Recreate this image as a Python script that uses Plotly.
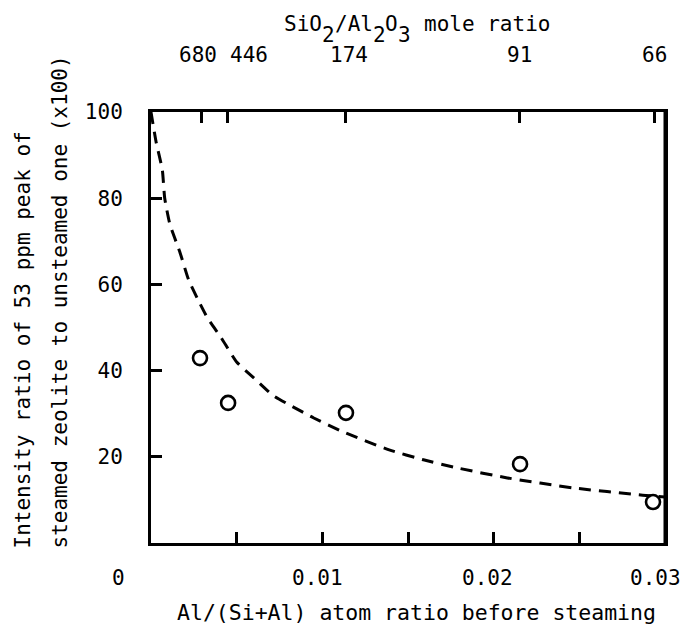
import plotly.graph_objects as go

# Measured points
al_ratio = [0.00286, 0.0045, 0.01138, 0.02154, 0.0293]
intensity = [42.9, 32.5, 30.2, 18.3, 9.5]

# Dashed trend curve
curve_x = [0.0, 0.0003, 0.00066, 0.0008, 0.0011, 0.0017, 0.0022, 0.0027, 0.0033,
           0.0041, 0.005, 0.006, 0.0071, 0.0081, 0.0095, 0.0112, 0.0139, 0.0159,
           0.0179, 0.0208, 0.0246, 0.0287, 0.030]
curve_y = [100, 93, 86.6, 80, 74, 67.3, 61, 56.8, 52.2,
           47.6, 42, 38.3, 34.3, 32, 29, 25.8, 21.6, 19.3,
           17.4, 15.1, 12.8, 11.1, 10.7]

# Bottom axis ticks and labels
bottom_ticks = [0.005, 0.01, 0.015, 0.02, 0.025, 0.03]
bottom_label_vals = [0, 0.01, 0.02, 0.03]
bottom_label_text = ["0", "0.01", "0.02", "0.03"]

# Left axis ticks
y_ticks = [20, 40, 60, 80, 100]

# Top axis: SiO2/Al2O3 mole ratio
top_labels = ["680", "446", "174", "91", "66"]
top_pos = [0.00293, 0.00446, 0.01136, 0.0215, 0.0294]

FONT = "DejaVu Sans Mono"
FS = 21
ADV = 0.602 * FS  # monospace advance width

fig = go.Figure()
fig.add_trace(go.Scatter(
    x=curve_x, y=curve_y, mode="lines", line_shape="spline",
    line=dict(color="black", width=3, dash="12px,8px", smoothing=0.5),
    showlegend=False, hoverinfo="skip"))
fig.add_trace(go.Scatter(
    x=al_ratio, y=intensity, mode="markers",
    marker=dict(symbol="circle-open", size=14, color="black",
                line=dict(color="black", width=2.6)),
    showlegend=False))
# invisible trace for top axis
fig.add_trace(go.Scatter(x=[0, 0.03], y=[0, 0], xaxis="x2", mode="markers",
                         marker=dict(opacity=0), showlegend=False, hoverinfo="skip"))

fig.update_layout(
    width=681, height=627,
    margin=dict(l=151, r=16, t=112, b=84),
    paper_bgcolor="white", plot_bgcolor="white",
    font=dict(family=FONT, size=FS, color="black"),
    xaxis=dict(range=[0, 0.03], tickvals=bottom_ticks, showticklabels=False,
               ticks="inside", ticklen=11, tickwidth=3, tickcolor="black",
               showline=True, linewidth=3, linecolor="black", mirror=False,
               showgrid=False, zeroline=False),
    xaxis2=dict(range=[0, 0.03], overlaying="x", side="top",
                tickvals=top_pos, showticklabels=False,
                ticks="inside", ticklen=11, tickwidth=3, tickcolor="black",
                showline=True, linewidth=3, linecolor="black",
                showgrid=False, zeroline=False),
    yaxis=dict(range=[0, 100], tickvals=y_ticks,
               ticks="inside", ticklen=11, tickwidth=3, tickcolor="black",
               showline=True, linewidth=3, linecolor="black", mirror=True,
               showgrid=False, zeroline=False, ticklabelstandoff=21),
)

# right frame line
fig.add_shape(type="line", xref="paper", yref="paper", x0=1, x1=1, y0=0, y1=1,
              line=dict(color="black", width=3))

# Bottom tick labels
bottom_shift = [-33, -5, -6, -10]
for val, txt, sh in zip(bottom_label_vals, bottom_label_text, bottom_shift):
    fig.add_annotation(x=val, y=0, xref="x", yref="paper", text=txt,
                       showarrow=False, yanchor="middle", yshift=-35, xshift=sh,
                       font=dict(size=FS))

# Top tick labels (446 drawn a bit right of its tick, as in the original)
label_shift = [-3, 22, 3, 0, 0]
for lab, pos, sh in zip(top_labels, top_pos, label_shift):
    fig.add_annotation(x=pos, y=1, xref="x", yref="paper", text=lab,
                       showarrow=False, yanchor="middle", yshift=57, xshift=sh,
                       font=dict(size=FS))

# Top axis title, typewriter style: subscripts are full-size characters lowered.
# Pieces are laid out on a monospace grid of 21 character cells.
title_cells = 21
title_pieces = [("SiO", 0, 0), ("2", 3, 1), ("/Al", 4, 0), ("2", 7, 1),
                ("O", 8, 0), ("3", 9, 1), ("mole ratio", 11, 0)]
for txt, start, is_sub in title_pieces:
    centre_cell = start + len(txt) / 2.0
    fig.add_annotation(x=0.5175, y=1, xref="paper", yref="paper", text=txt,
                       showarrow=False, xanchor="center", yanchor="middle",
                       xshift=(centre_cell - title_cells / 2.0) * ADV,
                       yshift=77 if is_sub else 88, font=dict(size=FS))

# Bottom axis title
fig.add_annotation(x=0.5175, y=0, xref="paper", yref="paper",
                   text="Al/(Si+Al) atom ratio before steaming",
                   showarrow=False, yanchor="middle", yshift=-69,
                   font=dict(size=21.5))

# Left axis title (two lines, both starting near the bottom)
fig.add_annotation(x=0, y=0, xref="paper", yref="paper",
                   text="Intensity ratio of 53 ppm peak of",
                   showarrow=False, textangle=-90,
                   xanchor="center", yanchor="bottom", xshift=-129, yshift=-8,
                   font=dict(size=FS))
fig.add_annotation(x=0, y=0, xref="paper", yref="paper",
                   text="steamed zeolite to unsteamed one (x100)",
                   showarrow=False, textangle=-90,
                   xanchor="center", yanchor="bottom", xshift=-92, yshift=-8,
                   font=dict(size=FS))

fig.write_html("out.html", config={"displayModeBar": False},
               post_script="document.body.style.margin='0';document.body.style.overflow='hidden';")
